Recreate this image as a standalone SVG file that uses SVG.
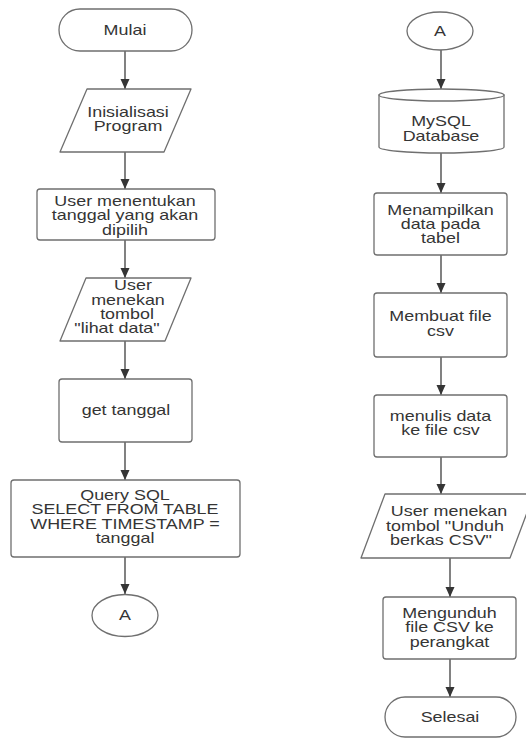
<svg xmlns="http://www.w3.org/2000/svg" width="526" height="738" viewBox="0 0 526 738">
<defs>
<style>
.s{fill:#ffffff;stroke:#6f6f6f;stroke-width:1.3;stroke-linejoin:round}
.c{stroke:#3e3e3e;stroke-width:1.3;fill:none}
.t{font-family:"Liberation Sans",Arial,sans-serif;font-size:14px;fill:#353535;text-anchor:middle}
</style>
<marker id="ah" markerUnits="userSpaceOnUse" markerWidth="10" markerHeight="10" refX="10" refY="4.5" orient="auto">
<path d="M0,0 L10,4.5 L0,9 Z" fill="#353535"/>
</marker>
</defs>
<rect width="526" height="738" fill="#ffffff"/>
<g id="connectors">
<line class="c" x1="125" y1="51" x2="125" y2="89" marker-end="url(#ah)"/>
<line class="c" x1="125" y1="152" x2="125" y2="189" marker-end="url(#ah)"/>
<line class="c" x1="125" y1="240" x2="125" y2="278" marker-end="url(#ah)"/>
<line class="c" x1="125" y1="341" x2="125" y2="379" marker-end="url(#ah)"/>
<line class="c" x1="125" y1="442" x2="125" y2="480" marker-end="url(#ah)"/>
<line class="c" x1="125" y1="557" x2="125" y2="594" marker-end="url(#ah)"/>
<line class="c" x1="441" y1="50" x2="441" y2="89" marker-end="url(#ah)"/>
<line class="c" x1="441" y1="153" x2="441" y2="193" marker-end="url(#ah)"/>
<line class="c" x1="441" y1="255" x2="441" y2="293" marker-end="url(#ah)"/>
<line class="c" x1="441" y1="357" x2="441" y2="395" marker-end="url(#ah)"/>
<line class="c" x1="441" y1="457" x2="441" y2="494" marker-end="url(#ah)"/>
<line class="c" x1="450" y1="558" x2="450" y2="597" marker-end="url(#ah)"/>
<line class="c" x1="450" y1="659" x2="450" y2="697" marker-end="url(#ah)"/>
</g>
<g id="mulai">
<rect class="s" x="59" y="9" width="133" height="42" rx="21"/>
<text class="t" transform="translate(125 0) scale(1.28 1)" x="0" y="35">Mulai</text>
</g>
<g id="inisialisasi">
<path class="s" d="M87,89 L191,89 L164,152 L60,152 Z"/>
<text class="t" transform="translate(128 0) scale(1.28 1)"><tspan x="0" y="117">Inisialisasi</tspan><tspan x="0" y="131.3">Program</tspan></text>
</g>
<g id="user-tanggal">
<rect class="s" x="37" y="189" width="178" height="51" rx="3"/>
<text class="t" transform="translate(125 0) scale(1.28 1)"><tspan x="0" y="206">User menentukan</tspan><tspan x="0" y="220.3">tanggal yang akan</tspan><tspan x="0" y="234.6">dipilih</tspan></text>
</g>
<g id="lihat-data">
<path class="s" d="M86,278 L191,278 L165,341 L60,341 Z"/>
<text class="t" transform="translate(133 0) scale(1.28 1)" x="0" y="290.5">User</text>
<text class="t" transform="translate(128 0) scale(1.28 1)" x="0" y="304.8">menekan</text>
<text class="t" transform="translate(127 0) scale(1.28 1)" x="0" y="319.1">tombol</text>
<text class="t" transform="translate(117 0) scale(1.28 1)" x="0" y="333.4">"lihat data"</text>
</g>
<g id="get-tanggal">
<rect class="s" x="59" y="379" width="133" height="63" rx="3"/>
<text class="t" transform="translate(126 0) scale(1.28 1)" x="0" y="415">get tanggal</text>
</g>
<g id="query">
<rect class="s" x="11" y="480" width="229" height="77" rx="3"/>
<text class="t" transform="translate(125 0) scale(1.28 1)"><tspan x="0" y="500">Query SQL</tspan><tspan x="0" y="514.3">SELECT FROM TABLE</tspan><tspan x="0" y="528.6">WHERE TIMESTAMP =</tspan><tspan x="0" y="542.9">tanggal</tspan></text>
</g>
<g id="a-left">
<ellipse class="s" cx="125" cy="615.5" rx="33" ry="21"/>
<text class="t" transform="translate(125 0) scale(1.28 1)" x="0" y="620.5">A</text>
</g>
<g id="a-right">
<ellipse class="s" cx="440" cy="31" rx="33" ry="19"/>
<text class="t" transform="translate(440 0) scale(1.28 1)" x="0" y="36">A</text>
</g>
<g id="mysql">
<path class="s" d="M379,95 L379,147 A62.5,6 0 0 0 504,147 L504,95 Z"/>
<ellipse class="s" cx="441.5" cy="95" rx="62.5" ry="6"/>
<text class="t" transform="translate(441 0) scale(1.28 1)"><tspan x="0" y="126.5">MySQL</tspan><tspan x="0" y="140.8">Database</tspan></text>
</g>
<g id="menampilkan">
<rect class="s" x="374" y="193" width="133" height="62" rx="3"/>
<text class="t" transform="translate(440.5 0) scale(1.28 1)"><tspan x="0" y="214.7">Menampilkan</tspan><tspan x="0" y="229">data pada</tspan><tspan x="0" y="243.3">tabel</tspan></text>
</g>
<g id="membuat">
<rect class="s" x="374" y="293" width="133" height="64" rx="3"/>
<text class="t" transform="translate(440.5 0) scale(1.28 1)"><tspan x="0" y="321.5">Membuat file</tspan><tspan x="0" y="335.8">csv</tspan></text>
</g>
<g id="menulis">
<rect class="s" x="374" y="395" width="133" height="62" rx="3"/>
<text class="t" transform="translate(440.5 0) scale(1.28 1)"><tspan x="0" y="421">menulis data</tspan><tspan x="0" y="435.3">ke file csv</tspan></text>
</g>
<g id="unduh">
<path class="s" d="M385,494 L534,494 L510,558 L361,558 Z"/>
<text class="t" transform="translate(449 0) scale(1.28 1)" x="0" y="516.5">User menekan</text>
<text class="t" transform="translate(445 0) scale(1.28 1)" x="0" y="530.8">tombol "Unduh</text>
<text class="t" transform="translate(441 0) scale(1.28 1)" x="0" y="545.1">berkas CSV"</text>
</g>
<g id="mengunduh">
<rect class="s" x="383" y="597" width="133" height="62" rx="3"/>
<text class="t" transform="translate(449.5 0) scale(1.28 1)"><tspan x="0" y="618">Mengunduh</tspan><tspan x="0" y="632.3">file CSV ke</tspan><tspan x="0" y="646.6">perangkat</tspan></text>
</g>
<g id="selesai">
<rect class="s" x="385" y="697" width="131" height="40" rx="20"/>
<text class="t" transform="translate(450 0) scale(1.28 1)" x="0" y="722">Selesai</text>
</g>
</svg>
